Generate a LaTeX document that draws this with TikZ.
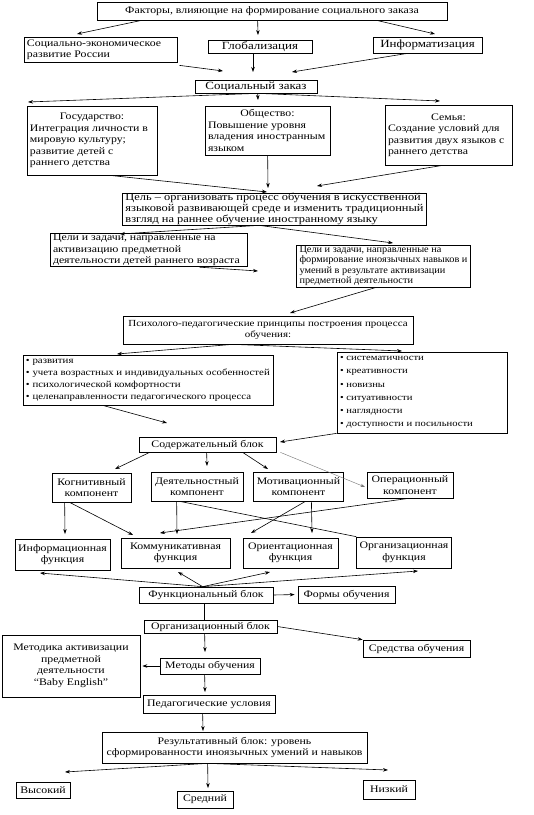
\documentclass[tikz,border=0pt]{standalone}
\usepackage{fontspec}
\setmainfont{Liberation Serif}[FakeStretch=1.18]
\newfontfamily\narrowfont{Liberation Serif}[FakeStretch=1.05]
\usetikzlibrary{arrows.meta}
\tikzset{
  box/.style={draw, line width=0.7pt, inner xsep=3pt, inner ysep=1pt, font=\fontsize{10}{11.5}\selectfont},
  big/.style={font=\fontsize{11}{12}\selectfont},
  arr/.style={-{Stealth[length=5pt,width=3.5pt]}, line width=0.6pt},
  thinarr/.style={-{Stealth[length=4.5pt,width=3pt]}, line width=0.4pt, draw=black!55},
  plain/.style={line width=0.6pt}
}
\newcommand\bx[7]{%
  \pgfmathsetmacro\bxw{#4-#2-6}%
  \pgfmathsetmacro\bxo{#4-#2}%
  \pgfmathsetmacro\bxh{#5-#3}%
  \node[box,#6,minimum width=\bxo pt,minimum height=\bxh pt] (#1) at ({(#2+#4)/2},{(#3+#5)/2}) {#7};}
\newcommand\ctr[1]{\makebox[\bxw pt][c]{#1}}
\newcommand\fl[1]{\makebox[\bxw pt][l]{#1}}
\begin{document}
\begin{tikzpicture}[x=1pt,y=-1pt]
\useasboundingbox (0,0) rectangle (534,815);
\fill[white] (0,0) rectangle (534,815);
% boxes
\bx{fac}{97}{2}{447}{20}{align=center}{Факторы, влияющие на формирование социального заказа}
\bx{soc}{24}{37}{177}{62}{align=left}{\fl{Социально-экономическое}\\развитие России}
\bx{glob}{208}{40}{312}{53}{align=center,big,inner ysep=0pt}{Глобализация}
\bx{inf}{373}{37}{482}{53}{align=center,big}{Информатизация}
\bx{zak}{195}{80}{317}{93}{align=center,big,inner ysep=0pt}{Социальный заказ}
\bx{gos}{27}{106}{157}{175}{align=left}{\ctr{Государство:}\\Интеграция личности в\\мировую культуру;\\развитие детей с\\раннего детства}
\bx{obs}{205}{106}{330}{155}{align=left}{\ctr{Общество:}\\Повышение уровня\\владения иностранным\\языком}
\bx{sem}{385}{105}{512}{165}{align=left}{\ctr{Семья:}\\Создание условий для\\развития двух языков с\\раннего детства}
\bx{cel}{123}{193}{426}{225}{align=left,inner ysep=0pt,font=\fontsize{10.5}{11}\selectfont}{\fl{Цель – организовать процесс обучения в искусственной}\\языковой развивающей среде и изменить традиционный\\взгляд на раннее обучение иностранному языку}
\bx{lg}{50}{236}{247}{264}{align=left}{\fl{Цели и задачи, направленные на}\\активизацию предметной\\деятельности детей раннего возраста}
\bx{rg}{300}{245}{467}{287}{align=left,inner ysep=0pt,font=\narrowfont\fontsize{9.8}{10.5}\selectfont}{\fl{Цели и задачи, направленные на}\\формирование иноязычных навыков и\\умений в результате активизации\\предметной деятельности}
\bx{psy}{123}{316}{413}{344}{align=center,font=\fontsize{9.3}{11.5}\selectfont}{Психолого-педагогические принципы построения процесса\\обучения:}
\bx{ll}{23}{355}{273}{405}{align=left,font=\fontsize{9.2}{12}\selectfont}{\fl{\textbullet\ развития}\\\textbullet\ учета возрастных и индивидуальных особенностей\\\textbullet\ психологической комфортности\\\textbullet\ целенаправленности педагогического процесса}
\bx{rl}{337}{352}{507}{433}{align=left,inner ysep=0pt,font=\fontsize{9}{13.2}\selectfont}{\fl{\textbullet\ систематичности}\\\textbullet\ креативности\\\textbullet\ новизны\\\textbullet\ ситуативности\\\textbullet\ наглядности\\\textbullet\ доступности и посильности}
\bx{sod}{139}{437}{276}{452}{align=center}{Содержательный блок}
\bx{kog}{52}{473}{131}{502}{align=center}{Когнитивный\\компонент}
\bx{dej}{151}{472}{243}{501}{align=center}{Деятельностный\\компонент}
\bx{mot}{254}{472}{343}{501}{align=center}{Мотивационный\\компонент}
\bx{op}{367}{472}{453}{498}{align=center}{Операционный\\компонент}
\bx{finf}{15}{539}{110}{570}{align=center}{Информационная\\функция}
\bx{fkom}{121}{538}{230}{568}{align=center}{Коммуникативная\\функция}
\bx{for}{243}{538}{338}{568}{align=center}{Ориентационная\\функция}
\bx{forg}{357}{537}{451}{568}{align=center}{Организационная\\функция}
\bx{fb}{139}{587}{273}{603}{align=center}{Функциональный блок}
\bx{fo}{298}{586}{395}{603}{align=center}{Формы обучения}
\bx{ob}{144}{620}{277}{633}{align=center}{Организационный блок}
\bx{sr}{363}{640}{470}{657}{align=center}{Средства обучения}
\bx{mk}{2}{635}{140}{697}{align=center}{Методика активизации\\предметной\\деятельности\\“Baby English”}
\bx{met}{160}{658}{260}{674}{align=center}{Методы обучения}
\bx{ped}{143}{695}{275}{713}{align=center}{Педагогические условия}
\bx{res}{102}{732}{367}{763}{align=center}{Результативный блок: уровень\\сформированности иноязычных умений и навыков}
\bx{vys}{16}{782}{70}{798}{align=center}{Высокий}
\bx{sre}{177}{791}{233}{808}{align=center}{Средний}
\bx{niz}{363}{780}{415}{799}{align=center}{Низкий}
% free arrow ends
\coordinate (t1) at (77,34);
\coordinate (t2) at (258,35);
\coordinate (t3) at (435,34);
\coordinate (t4) at (223,71);
\coordinate (t5) at (253,72);
\coordinate (t6) at (292,72);
\coordinate (t7) at (28,102);
\coordinate (t8) at (258,100);
\coordinate (t9) at (440,101);
\coordinate (t10) at (267,192);
\coordinate (t11) at (268,188);
\coordinate (t12) at (317,186);
\coordinate (t13) at (120,234);
\coordinate (t14) at (393,243);
\coordinate (t15) at (258,271);
\coordinate (t16) at (290,313);
\coordinate (t17) at (117,354);
\coordinate (t18) at (402,351);
\coordinate (t19) at (167,423);
\coordinate (t20) at (280,442);
\coordinate (t21) at (115,469);
\coordinate (t22) at (207,466);
\coordinate (t23) at (268,469);
\coordinate (t24) at (365,487);
\coordinate (t25) at (65,534);
\coordinate (t26) at (133,535);
\coordinate (t27) at (177,534);
\coordinate (t28) at (312,533);
\coordinate (t29) at (251,533);
\coordinate (t30) at (160,533);
\coordinate (t31) at (40,573);
\coordinate (t32) at (178,572);
\coordinate (t33) at (270,572);
\coordinate (t34) at (418,571);
\coordinate (t37) at (205,652);
\coordinate (t38) at (205,692);
\coordinate (t39) at (203,731);
\coordinate (t40) at (65,772);
\coordinate (t41) at (208,788);
\coordinate (t42) at (388,770);
% connectors
\draw[arr] ([xshift=45pt]fac.south west) -- (t1);
\draw[arr] ([xshift=161pt]fac.south west) -- (t2);
\draw[arr] ([xshift=280pt]fac.south west) -- (t3);
\draw[arr] ([xshift=2pt,yshift=-3pt]soc.south east) -- (t4);
\draw[arr] ([xshift=-7pt]glob.south) -- (t5);
\draw[arr] ([xshift=35pt]inf.south west) -- (t6);
\draw[arr] ([xshift=63pt]zak.south west) -- (t7);
\draw[arr] ([xshift=63pt]zak.south west) -- (t8);
\draw[arr] ([xshift=63pt]zak.south west) -- (t9);
\draw[arr] ([xshift=83pt]gos.south west) -- (t10);
\draw[arr] ([xshift=63pt]obs.south west) -- (t11);
\draw[arr] ([xshift=58pt]sem.south west) -- (t12);
\draw[arr] ([xshift=137pt]cel.south west) -- (t13);
\draw[arr] ([xshift=137pt]cel.south west) -- (t14);
\draw[arr] ([xshift=150pt]lg.south west) -- (t15);
\draw[arr] ([xshift=80pt]rg.south west) -- (t16);
\draw[arr] ([xshift=110pt]psy.south west) -- (t17);
\draw[arr] ([xshift=110pt]psy.south west) -- (t18);
\draw[arr] ([xshift=80pt]ll.south west) -- (t19);
\draw[arr] (rl.south west) -- (t20);
\draw[arr] ([xshift=11pt]sod.south west) -- (t21);
\draw[arr] ([xshift=68pt]sod.south west) -- (t22);
\draw[arr] ([xshift=104pt]sod.south west) -- (t23);
\draw[thinarr] ([xshift=4pt]sod.south east) -- (t24);
\draw[arr] ([xshift=13pt]kog.south west) -- (t25);
\draw[arr] ([xshift=18pt]kog.south west) -- (t26);
\draw[arr] ([xshift=26pt]dej.south west) -- (t27);
\draw[plain] ([xshift=29pt]dej.south west) -- (forg.north west);
\draw[arr] ([xshift=58pt]mot.south west) -- (t28);
\draw[arr] ([xshift=52pt]mot.south west) -- (t29);
\draw[arr] ([xshift=42pt]op.south west) -- (t30);
\draw[arr] ([xshift=64pt]fb.north west) -- (t31);
\draw[arr] ([xshift=64pt]fb.north west) -- (t32);
\draw[arr] ([xshift=64pt]fb.north west) -- (t33);
\draw[arr] ([xshift=64pt]fb.north west) -- (t34);
\draw[arr, shorten >=3pt] (fb.east) -- (fo.west);
\draw[plain] ([xshift=66pt]fb.south west) -- ([xshift=66pt]fb.south west |- ob.north);
\draw[arr] (ob.east) -- (sr.north west);
\draw[arr] ([xshift=61pt]ob.south west) -- (t37);
\draw[arr, shorten >=2pt] (met.west) -- (mk.east);
\draw[arr] ([xshift=45pt]met.south west) -- (t38);
\draw[arr] ([xshift=60pt]ped.south west) -- (t39);
\draw[arr] ([xshift=106pt]res.south west) -- (t40);
\draw[arr] ([xshift=106pt]res.south west) -- (t41);
\draw[arr] ([xshift=106pt]res.south west) -- (t42);
\end{tikzpicture}
\end{document}
